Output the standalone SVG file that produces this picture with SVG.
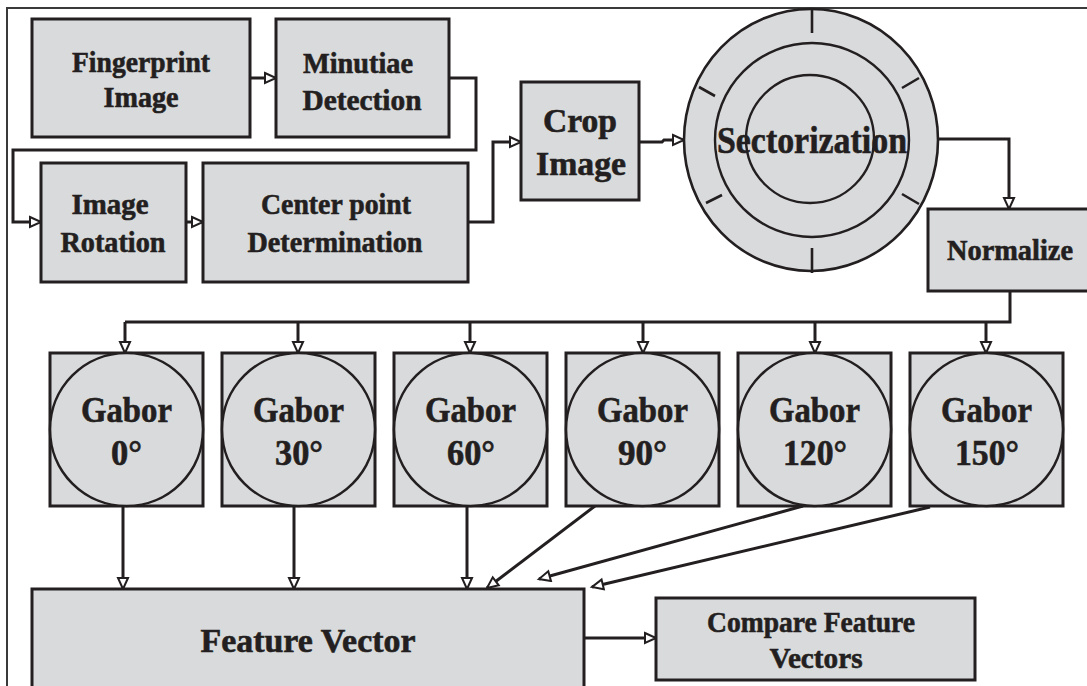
<svg xmlns="http://www.w3.org/2000/svg" width="1087" height="686" viewBox="0 0 1087 686">
<defs>
<style>
.box{fill:#d9dadc;stroke:#231f20;stroke-width:3}
.circ{fill:#d9dadc;stroke:#231f20;stroke-width:2.6}
.ring{fill:none;stroke:#231f20;stroke-width:2.4}
.tick{stroke:#231f20;stroke-width:2.6;fill:none}
.conn{fill:none;stroke:#231f20;stroke-width:3}
.frame{fill:none;stroke:#3a3a3a;stroke-width:2}
text{font-family:"Liberation Serif","Times New Roman",serif;font-weight:bold;fill:#231f20;stroke:#231f20;stroke-width:0.6;text-anchor:middle}
.t30{font-size:30px}
.t34{font-size:34px}
.tg{font-size:35px}
</style>
<marker id="arr" markerUnits="userSpaceOnUse" markerWidth="16" markerHeight="16" viewBox="-2 -2 16 16" refX="11" refY="5" orient="auto">
<path d="M0,0 L11,5 L0,10 Z" fill="#fff" stroke="#231f20" stroke-width="2"/>
</marker>
</defs>
<rect width="1087" height="686" fill="#fff"/>
<path class="frame" d="M7,686 V8 H1087"/>

<g id="connectors">
<path class="conn" d="M250,78 H276" marker-end="url(#arr)"/>
<path class="conn" d="M449,78 H476 V150 H13 V222 H41" marker-end="url(#arr)"/>
<path class="conn" d="M186,222 H203" marker-end="url(#arr)"/>
<path class="conn" d="M468,222 H493 V142 H521" marker-end="url(#arr)"/>
<path class="conn" d="M639,142 H662 L664,140 H684" marker-end="url(#arr)"/>
<path class="conn" d="M939,139 H1009 V209" marker-end="url(#arr)"/>
<path class="conn" d="M1010,291 V322 H125"/>
<path class="conn" d="M125,322 V353" marker-end="url(#arr)"/>
<path class="conn" d="M298,322 V353" marker-end="url(#arr)"/>
<path class="conn" d="M470,322 V353" marker-end="url(#arr)"/>
<path class="conn" d="M643,322 V353" marker-end="url(#arr)"/>
<path class="conn" d="M815,322 V353" marker-end="url(#arr)"/>
<path class="conn" d="M986,322 V353" marker-end="url(#arr)"/>
<path class="conn" d="M123,506 V589" marker-end="url(#arr)"/>
<path class="conn" d="M294,506 V589" marker-end="url(#arr)"/>
<path class="conn" d="M467,506 V589" marker-end="url(#arr)"/>
<path class="conn" d="M595,506 L487,588" marker-end="url(#arr)"/>
<path class="conn" d="M803,506 L539,579" marker-end="url(#arr)"/>
<path class="conn" d="M930,507 L592,587" marker-end="url(#arr)"/>
<path class="conn" d="M584,638 H656" marker-end="url(#arr)"/>
</g>

<g id="fingerprint">
<rect class="box" x="32" y="19" width="218" height="118"/>
<text class="t30" x="141" y="72" textLength="138" lengthAdjust="spacingAndGlyphs">Fingerprint</text>
<text class="t30" x="141" y="107" textLength="75" lengthAdjust="spacingAndGlyphs">Image</text>
</g>
<g id="minutiae">
<rect class="box" x="276" y="19" width="173" height="118"/>
<text class="t30" x="358" y="73" textLength="110" lengthAdjust="spacingAndGlyphs">Minutiae</text>
<text class="t30" x="362" y="110" textLength="119" lengthAdjust="spacingAndGlyphs">Detection</text>
</g>
<g id="rotation">
<rect class="box" x="41" y="163" width="145" height="119"/>
<text class="t30" x="110" y="214" textLength="77" lengthAdjust="spacingAndGlyphs">Image</text>
<text class="t30" x="113" y="252" textLength="105" lengthAdjust="spacingAndGlyphs">Rotation</text>
</g>
<g id="center">
<rect class="box" x="203" y="163" width="265" height="119"/>
<text class="t30" x="336" y="214" textLength="150" lengthAdjust="spacingAndGlyphs">Center point</text>
<text class="t30" x="335" y="252" textLength="175" lengthAdjust="spacingAndGlyphs">Determination</text>
</g>
<g id="crop">
<rect class="box" x="521" y="82" width="118" height="118"/>
<text class="t34" x="580" y="132" textLength="74" lengthAdjust="spacingAndGlyphs">Crop</text>
<text class="t34" x="581" y="175" textLength="90" lengthAdjust="spacingAndGlyphs">Image</text>
</g>
<g id="sectorization">
<ellipse class="circ" cx="811" cy="140" rx="127" ry="131" stroke-width="3"/>
<circle class="ring" cx="812" cy="140" r="97"/>
<circle class="ring" cx="810" cy="139" r="64"/>
<path class="tick" d="M812,9 V33 M812,248 V273 M902,88 L919,78 M902,194 L919,204 M699,87 L715,96 M706,203 L722,195"/>
<text x="812" y="153" font-size="38" textLength="190" lengthAdjust="spacingAndGlyphs">Sectorization</text>
</g>
<g id="normalize">
<rect class="box" x="928" y="209" width="170" height="82"/>
<text x="1010" y="260" font-size="29" textLength="126" lengthAdjust="spacingAndGlyphs">Normalize</text>
</g>

<g id="gabor0">
<rect class="box" x="50" y="353" width="153" height="153"/>
<circle class="circ" cx="126.5" cy="429.5" r="76.5"/>
<text class="tg" x="126.5" y="422" textLength="91" lengthAdjust="spacingAndGlyphs">Gabor</text>
<text class="tg" x="126.5" y="465" textLength="31" lengthAdjust="spacingAndGlyphs">0°</text>
</g>
<g id="gabor30">
<rect class="box" x="222" y="353" width="153" height="153"/>
<circle class="circ" cx="298.5" cy="429.5" r="76.5"/>
<text class="tg" x="298.5" y="422" textLength="91" lengthAdjust="spacingAndGlyphs">Gabor</text>
<text class="tg" x="299" y="465" textLength="48" lengthAdjust="spacingAndGlyphs">30°</text>
</g>
<g id="gabor60">
<rect class="box" x="394" y="353" width="153" height="153"/>
<circle class="circ" cx="470.5" cy="429.5" r="76.5"/>
<text class="tg" x="470.5" y="422" textLength="91" lengthAdjust="spacingAndGlyphs">Gabor</text>
<text class="tg" x="471" y="465" textLength="48" lengthAdjust="spacingAndGlyphs">60°</text>
</g>
<g id="gabor90">
<rect class="box" x="566" y="353" width="153" height="153"/>
<circle class="circ" cx="642.5" cy="429.5" r="76.5"/>
<text class="tg" x="642.5" y="422" textLength="91" lengthAdjust="spacingAndGlyphs">Gabor</text>
<text class="tg" x="642.5" y="465" textLength="49" lengthAdjust="spacingAndGlyphs">90°</text>
</g>
<g id="gabor120">
<rect class="box" x="738" y="353" width="153" height="153"/>
<circle class="circ" cx="814.5" cy="429.5" r="76.5"/>
<text class="tg" x="814.5" y="422" textLength="91" lengthAdjust="spacingAndGlyphs">Gabor</text>
<text class="tg" x="815" y="465" textLength="64" lengthAdjust="spacingAndGlyphs">120°</text>
</g>
<g id="gabor150">
<rect class="box" x="910" y="353" width="153" height="153"/>
<circle class="circ" cx="986.5" cy="429.5" r="76.5"/>
<text class="tg" x="986.5" y="422" textLength="91" lengthAdjust="spacingAndGlyphs">Gabor</text>
<text class="tg" x="987" y="465" textLength="64" lengthAdjust="spacingAndGlyphs">150°</text>
</g>

<g id="feature-vector">
<rect class="box" x="32" y="589" width="552" height="120"/>
<text class="t34" x="308" y="652" textLength="215" lengthAdjust="spacingAndGlyphs">Feature Vector</text>
</g>
<g id="compare">
<rect class="box" x="656" y="598" width="319" height="82"/>
<text class="t30" x="811" y="632" textLength="208" lengthAdjust="spacingAndGlyphs">Compare Feature</text>
<text class="t30" x="816" y="668" textLength="93" lengthAdjust="spacingAndGlyphs">Vectors</text>
</g>
</svg>
